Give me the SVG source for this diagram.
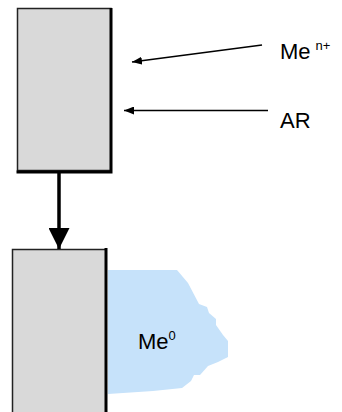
<svg xmlns="http://www.w3.org/2000/svg" width="342" height="412" viewBox="0 0 342 412">
<defs>
<style>
.box{fill:#d9d9d9;stroke:#222;stroke-width:1.5}
.edge{stroke:#000;stroke-width:3;fill:none}
.lbl{font-family:"Liberation Sans",Arial,sans-serif;font-size:22px;fill:#000}
.sup{font-family:"Liberation Sans",Arial,sans-serif;font-size:13px;fill:#000}
.thin{stroke:#000;stroke-width:1.6;fill:none}
.thick{stroke:#000;stroke-width:3.5;fill:none}
</style>
<marker id="ah" markerWidth="10" markerHeight="8" refX="10" refY="4" orient="auto" markerUnits="userSpaceOnUse">
<path d="M0,0 L10,4 L0,8 Z" fill="#000"/>
</marker>
<marker id="ahb" markerWidth="21" markerHeight="21" refX="21" refY="10.5" orient="auto" markerUnits="userSpaceOnUse">
<path d="M0,0 L21,10.5 L0,21 Z" fill="#000"/>
</marker>
</defs>
<g id="deposit">
<path d="M108,270 L177,270 L188,283 L199,304 L207,307 L209,313 L216,319 L216,325 L223,335 L228,341 L228,357 L218,362 L208,366 L200,375 L194,375 L191,381 L182,388 L153,391 L108,394 Z" fill="#c6e2fa"/>
<text class="lbl" x="138" y="349">Me<tspan class="sup" dy="-9">0</tspan></text>
</g>
<g id="top-electrode">
<rect class="box" x="17.5" y="8.5" width="93.5" height="162"/>
<path class="edge" d="M111,8 L111,172 L16.5,172"/>
</g>
<g id="bottom-electrode">
<rect class="box" x="12.5" y="249.5" width="93.5" height="170"/>
<path class="edge" d="M106,248 L106,420"/>
</g>
<g id="label-men">
<text class="lbl" x="280" y="59">Me<tspan class="sup" dx="5" dy="-9">n+</tspan></text>
</g>
<g id="label-ar">
<text class="lbl" x="280" y="128">AR</text>
</g>
<g id="connectors">
<line class="thin" x1="262" y1="45" x2="132" y2="62" marker-end="url(#ah)"/>
<line class="thin" x1="268" y1="110.5" x2="124" y2="110.5" marker-end="url(#ah)"/>
<line class="thick" x1="59" y1="172" x2="59" y2="249" marker-end="url(#ahb)"/>
</g>
</svg>
